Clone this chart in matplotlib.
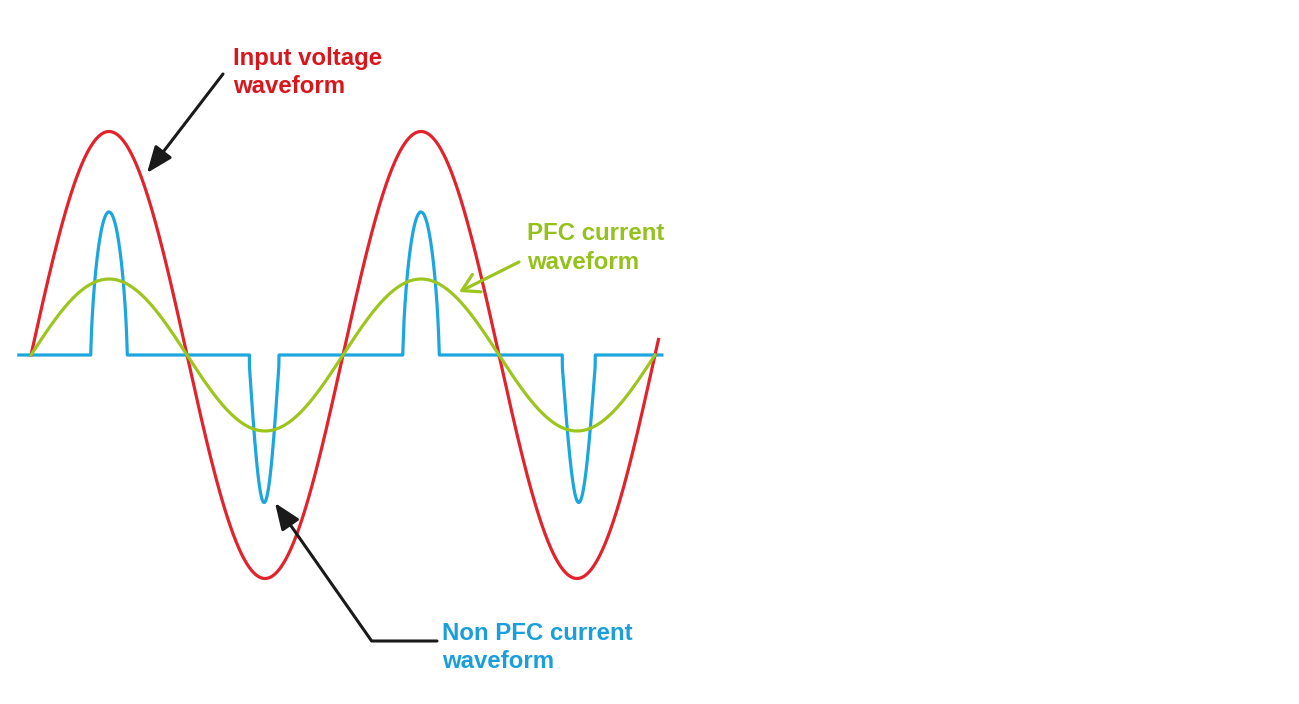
import numpy as np
from matplotlib import pyplot as plt

# --- data (angles in degrees, amplitudes normalised to input voltage) ---
volt_amp = 1.0          # red input voltage
pfc_amp = 0.34          # green PFC current
volt_end = 724          # red runs a bit past two cycles
pfc_end = 720
line_start, line_end = -14, 728     # blue baseline extent

pulse_centers = [90, 269, 450, 632]     # non PFC current pulses
pulse_heights = [0.64, -0.66, 0.64, -0.66]
pulse_halfw = [21, 17, 21, 19]
pulse_shape = ['round', 'vee', 'round', 'vee']

labels = ["Input voltage\nwaveform", "PFC current\nwaveform", "Non PFC current\nwaveform"]

# --- figure / pixel mapping ---
W, H = 1299, 704
x0, px_deg = 31, 312 / 360.0      # pixel of 0 deg, pixels per deg
yc, px_amp = 355, 223.5           # pixel of zero line, pixels per unit

fig = plt.figure(figsize=(W / 100, H / 100), dpi=100)
ax = fig.add_axes([0, 0, 1, 1])
ax.set_xlim(-x0 / px_deg, (W - x0) / px_deg)
ax.set_ylim(-(H - yc) / px_amp, yc / px_amp)
ax.axis('off')

red = '#e2232b'
green = '#9cc51e'
blue = '#1ca6e0'

# non PFC current: flat with narrow lobes around the voltage peaks
tb = np.linspace(line_start, line_end, 8000)
ib = np.zeros_like(tb)
for c, h, w, s in zip(pulse_centers, pulse_heights, pulse_halfw, pulse_shape):
    m = np.abs(tb - c) <= w
    u = (tb[m] - c) / w
    if s == 'round':
        ib[m] = h * (1 - u ** 2) ** 0.7
    else:
        ib[m] = h * np.cos(np.pi / 2 * u / 1.05)
ax.plot(tb, ib, color=blue, lw=2.3, solid_joinstyle='round')

tv = np.linspace(0, volt_end, 1500)
ax.plot(tv, volt_amp * np.sin(np.radians(tv)), color=red, lw=2.3)

tp = np.linspace(0, pfc_end, 1500)
ax.plot(tp, pfc_amp * np.sin(np.radians(tp)), color=green, lw=2.3)


def px(x, y):
    return (x, H - y)


font = dict(family=['Liberation Sans', 'DejaVu Sans'], fontweight='bold',
            fontsize=17.3, linespacing=1.32)
fig.text(233 / W, 1 - 46.5 / H, labels[0], color='#d9161c', va='top', ha='left', **font)
fig.text(527 / W, 1 - 222.5 / H, labels[1], color='#94c11c', va='top', ha='left', **font)
fig.text(442 / W, 1 - 621.5 / H, labels[2], color='#1a9fdb', va='top', ha='left', **font)

# arrows
ax.annotate('', xy=px(147, 173), xycoords='figure pixels',
            xytext=px(223, 74), textcoords='figure pixels',
            arrowprops=dict(arrowstyle='-|>,head_length=0.8,head_width=0.32',
                            mutation_scale=20, color='#1a1a1a', lw=2.2,
                            shrinkA=0, shrinkB=0))
ax.annotate('', xy=px(459, 292), xycoords='figure pixels',
            xytext=px(519, 262), textcoords='figure pixels',
            arrowprops=dict(arrowstyle='->,head_length=0.6,head_width=0.35',
                            mutation_scale=20, color=green, lw=2.3,
                            shrinkA=0, shrinkB=0))
ax.annotate('', xy=px(275, 503), xycoords='figure pixels',
            xytext=px(437, 641), textcoords='figure pixels',
            arrowprops=dict(arrowstyle='-|>,head_length=0.8,head_width=0.32',
                            mutation_scale=20, color='#1a1a1a', lw=2.2,
                            shrinkA=0, shrinkB=0,
                            connectionstyle='angle,angleA=0,angleB=125,rad=0'))

plt.savefig('out.png', dpi=100)
